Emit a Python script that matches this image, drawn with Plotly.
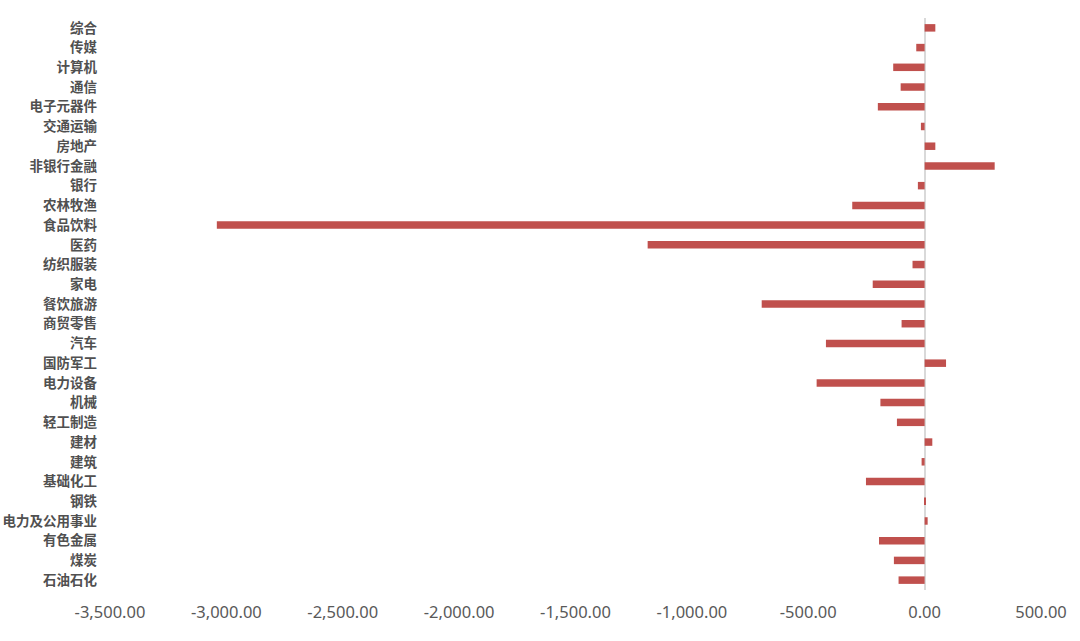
import plotly.graph_objects as go

categories = ["综合", "传媒", "计算机", "通信", "电子元器件", "交通运输", "房地产", "非银行金融",
              "银行", "农林牧渔", "食品饮料", "医药", "纺织服装", "家电", "餐饮旅游", "商贸零售",
              "汽车", "国防军工", "电力设备", "机械", "轻工制造", "建材", "建筑", "基础化工",
              "钢铁", "电力及公用事业", "有色金属", "煤炭", "石油石化"]
values = [46, -36, -135, -103, -201, -16, 46, 301,
          -29, -311, -3041, -1190, -52, -223, -700, -99,
          -424, 92, -464, -190, -119, 33, -13, -252,
          6, 13, -196, -132, -112]
x_ticks = [-3500, -3000, -2500, -2000, -1500, -1000, -500, 0, 500]
x_tick_labels = ["-3,500.00", "-3,000.00", "-2,500.00", "-2,000.00", "-1,500.00",
                 "-1,000.00", "-500.00", "0.00", "500.00"]

fig = go.Figure(go.Bar(
    x=values, y=categories, orientation="h",
    marker=dict(color="#C0504D", line=dict(width=0)),
    width=0.38,
))

fig.update_layout(
    width=1080, height=641,
    margin=dict(l=110, r=39, t=18, b=51),
    paper_bgcolor="white", plot_bgcolor="white",
    showlegend=False,
    font=dict(family="Noto Sans CJK SC, Noto Sans, sans-serif"),
)
fig.update_xaxes(
    range=[-3500, 500], tickvals=x_ticks, ticktext=x_tick_labels,
    showgrid=False, zeroline=True, zerolinecolor="#D9D9D9", zerolinewidth=1.5,
    showline=False, ticks="", ticklabelstandoff=10, automargin=False,
    tickfont=dict(size=16.5, color="#595959", family="Noto Sans, sans-serif"),
)
fig.update_yaxes(
    autorange="reversed", showgrid=False, showline=False, ticks="",
    ticklabelstandoff=12, automargin=False,
    tickfont=dict(size=13.5, color="#505050", family="Noto Sans CJK SC", weight="bold"),
)

fig.write_html("out.html", config={"displayModeBar": False},
               post_script="document.body.style.margin='0';")
